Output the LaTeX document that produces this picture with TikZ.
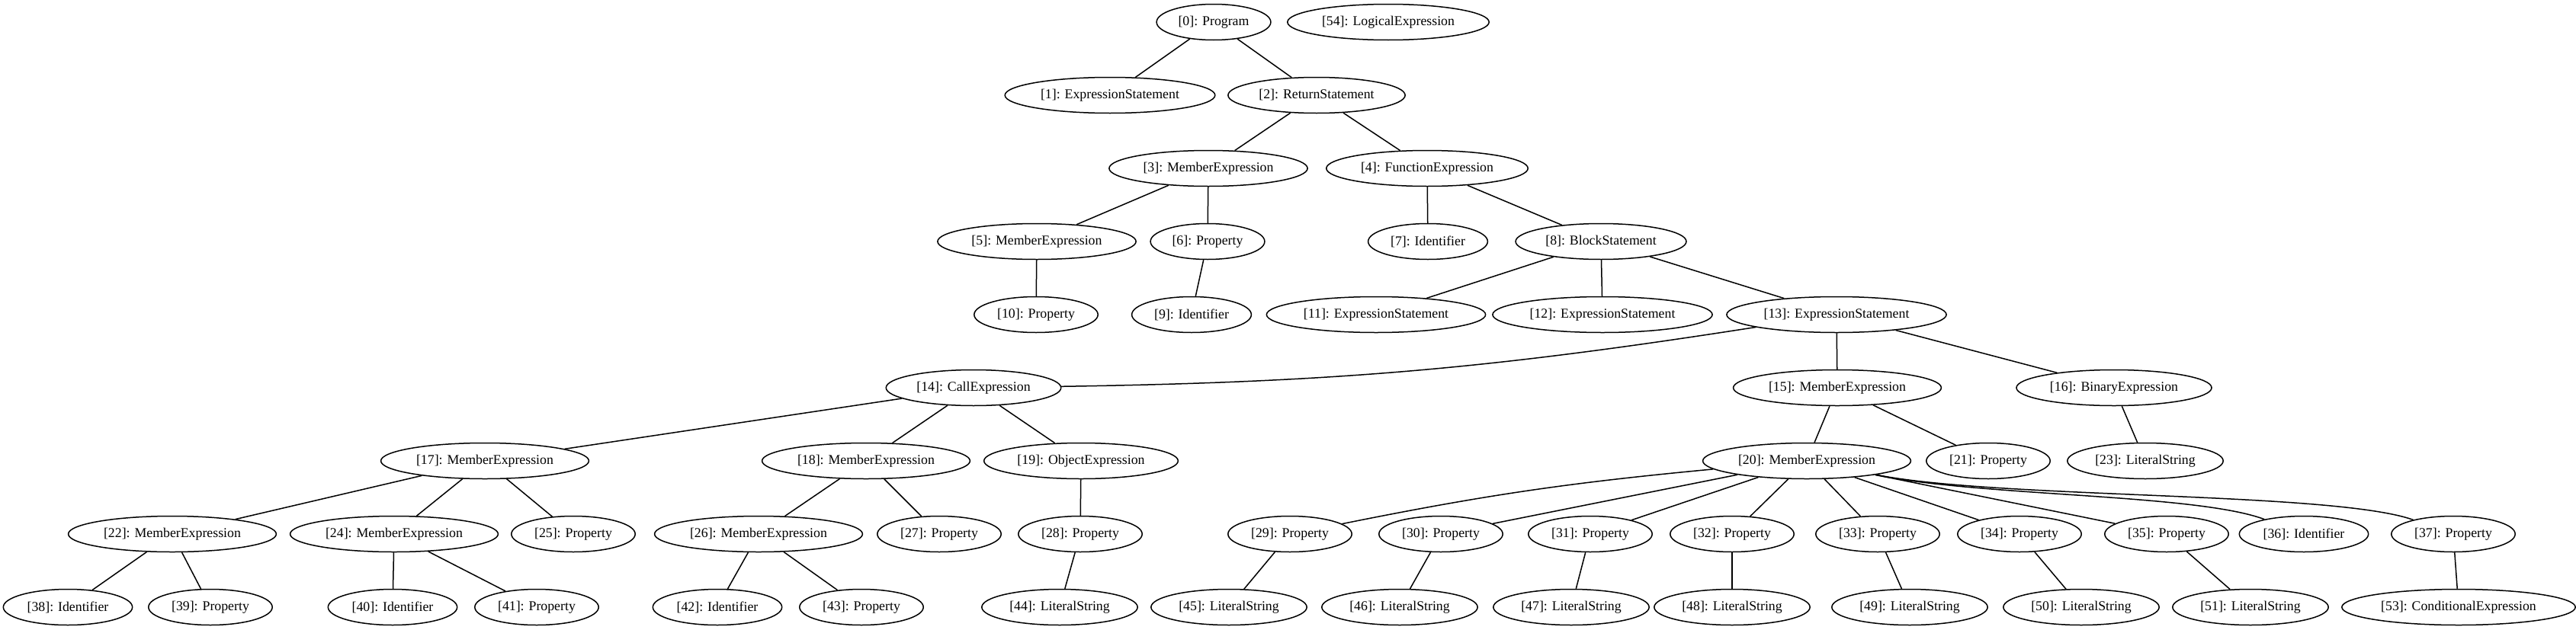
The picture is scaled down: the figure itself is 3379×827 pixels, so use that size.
\documentclass[tikz,border=0pt]{standalone}
\usepackage{fontspec}
\setmainfont{Liberation Serif}
\usetikzlibrary{shapes.geometric}
\begin{document}
\begin{tikzpicture}[x=1pt,y=-1pt,
  ast/.style={draw, ellipse, line width=1.5pt, inner xsep=6.5pt, inner ysep=1pt,
    minimum height=47pt, font=\fontsize{17.8}{20}\selectfont},
  edge/.style={line width=1.5pt}]
\useasboundingbox (0,0) rectangle (3379,827);
% row 0
\node[ast] (n0) at (1592,29) {[0]: Program};
\node[ast] (n54) at (1821,29) {[54]: LogicalExpression};
% row 1
\node[ast] (n1) at (1456,125) {[1]: ExpressionStatement};
\node[ast] (n2) at (1727,125) {[2]: ReturnStatement};
% row 2
\node[ast] (n3) at (1585,221) {[3]: MemberExpression};
\node[ast] (n4) at (1872,221) {[4]: FunctionExpression};
% row 3
\node[ast] (n5) at (1360,317) {[5]: MemberExpression};
\node[ast] (n6) at (1584,317) {[6]: Property};
\node[ast] (n7) at (1873,317) {[7]: Identifier};
\node[ast] (n8) at (2100,317) {[8]: BlockStatement};
% row 4
\node[ast] (n10) at (1359,413) {[10]: Property};
\node[ast] (n9) at (1563,413) {[9]: Identifier};
\node[ast] (n11) at (1805,413) {[11]: ExpressionStatement};
\node[ast] (n12) at (2102,413) {[12]: ExpressionStatement};
\node[ast] (n13) at (2409,413) {[13]: ExpressionStatement};
% row 5
\node[ast] (n14) at (1277,509) {[14]: CallExpression};
\node[ast] (n15) at (2410,509) {[15]: MemberExpression};
\node[ast] (n16) at (2773,509) {[16]: BinaryExpression};
% row 6
\node[ast] (n17) at (636,605) {[17]: MemberExpression};
\node[ast] (n18) at (1136,605) {[18]: MemberExpression};
\node[ast] (n19) at (1418,605) {[19]: ObjectExpression};
\node[ast] (n20) at (2370,605) {[20]: MemberExpression};
\node[ast] (n21) at (2608,605) {[21]: Property};
\node[ast] (n23) at (2814,605) {[23]: LiteralString};
% row 7
\node[ast] (n22) at (226,701) {[22]: MemberExpression};
\node[ast] (n24) at (517,701) {[24]: MemberExpression};
\node[ast] (n25) at (752,701) {[25]: Property};
\node[ast] (n26) at (995,701) {[26]: MemberExpression};
\node[ast] (n27) at (1232,701) {[27]: Property};
\node[ast] (n28) at (1417,701) {[28]: Property};
\node[ast] (n29) at (1692,701) {[29]: Property};
\node[ast] (n30) at (1890,701) {[30]: Property};
\node[ast] (n31) at (2086,701) {[31]: Property};
\node[ast] (n32) at (2272,701) {[32]: Property};
\node[ast] (n33) at (2463,701) {[33]: Property};
\node[ast] (n34) at (2649,701) {[34]: Property};
\node[ast] (n35) at (2842,701) {[35]: Property};
\node[ast] (n36) at (3022,701) {[36]: Identifier};
\node[ast] (n37) at (3218,701) {[37]: Property};
% row 8
\node[ast] (n38) at (89,797) {[38]: Identifier};
\node[ast] (n39) at (276,797) {[39]: Property};
\node[ast] (n40) at (515,797) {[40]: Identifier};
\node[ast] (n41) at (704,797) {[41]: Property};
\node[ast] (n42) at (941,797) {[42]: Identifier};
\node[ast] (n43) at (1130,797) {[43]: Property};
\node[ast] (n44) at (1390,797) {[44]: LiteralString};
\node[ast] (n45) at (1612,797) {[45]: LiteralString};
\node[ast] (n46) at (1836,797) {[46]: LiteralString};
\node[ast] (n47) at (2061,797) {[47]: LiteralString};
\node[ast] (n48) at (2272,797) {[48]: LiteralString};
\node[ast] (n49) at (2505,797) {[49]: LiteralString};
\node[ast] (n50) at (2730,797) {[50]: LiteralString};
\node[ast] (n51) at (2952,797) {[51]: LiteralString};
\node[ast] (n53) at (3225,797) {[53]: ConditionalExpression};
% edges
\draw[edge] (n0) -- (n1);
\draw[edge] (n0) -- (n2);
\draw[edge] (n2) -- (n3);
\draw[edge] (n2) -- (n4);
\draw[edge] (n3) -- (n5);
\draw[edge] (n3) -- (n6);
\draw[edge] (n4) -- (n7);
\draw[edge] (n4) -- (n8);
\draw[edge] (n5) -- (n10);
\draw[edge] (n6) -- (n9);
\draw[edge] (n8) -- (n11);
\draw[edge] (n8) -- (n12);
\draw[edge] (n8) -- (n13);
\draw[edge] (n13) to[bend left=4] (n14);
\draw[edge] (n13) -- (n15);
\draw[edge] (n13) -- (n16);
\draw[edge] (n14) -- (n17);
\draw[edge] (n14) -- (n18);
\draw[edge] (n14) -- (n19);
\draw[edge] (n15) -- (n20);
\draw[edge] (n15) -- (n21);
\draw[edge] (n16) -- (n23);
\draw[edge] (n17) -- (n22);
\draw[edge] (n17) -- (n24);
\draw[edge] (n17) -- (n25);
\draw[edge] (n18) -- (n26);
\draw[edge] (n18) -- (n27);
\draw[edge] (n19) -- (n28);
\draw[edge] (n20) to[bend right=3] (n29);
\draw[edge] (n20) -- (n30);
\draw[edge] (n20) -- (n31);
\draw[edge] (n20) -- (n32);
\draw[edge] (n20) -- (n33);
\draw[edge] (n20) -- (n34);
\draw[edge] (n20) -- (n35);
\draw[edge] (n20) .. controls (2600,652) and (2880,648) .. (n36);
\draw[edge] (n20) .. controls (2620,655) and (3060,645) .. (n37);
\draw[edge] (n22) -- (n38);
\draw[edge] (n22) -- (n39);
\draw[edge] (n24) -- (n40);
\draw[edge] (n24) -- (n41);
\draw[edge] (n26) -- (n42);
\draw[edge] (n26) -- (n43);
\draw[edge] (n28) -- (n44);
\draw[edge] (n29) -- (n45);
\draw[edge] (n30) -- (n46);
\draw[edge] (n31) -- (n47);
\draw[edge] (n32) -- (n48);
\draw[edge] (n33) -- (n49);
\draw[edge] (n34) -- (n50);
\draw[edge] (n35) -- (n51);
\draw[edge] (n37) -- (n53);
\end{tikzpicture}
\end{document}
